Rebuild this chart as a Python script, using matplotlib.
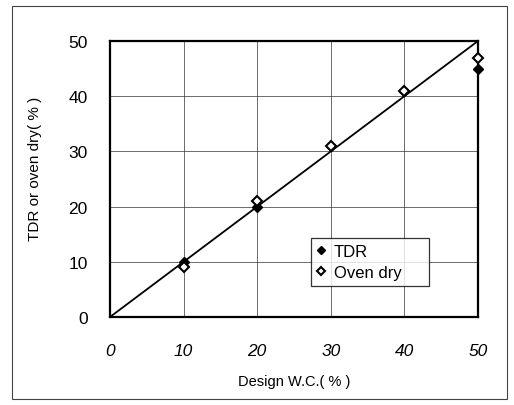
import matplotlib
matplotlib.use('agg')
import matplotlib.pyplot as plt
from matplotlib.patches import Rectangle

plt.rcParams['font.family'] = ['Liberation Sans', 'DejaVu Sans']

# data
design_wc = [10, 20, 30, 40, 50]
tdr = [10, 20, 31, 41, 45]
oven_dry = [9, 21, 31, 41, 47]
line_x = [0, 50]
line_y = [0, 50]
ticks = [0, 10, 20, 30, 40, 50]

fig = plt.figure(figsize=(5.14, 4.06), dpi=100)
ax = fig.add_axes([110/514, 1 - 318/406, 368/514, 276/406])

# outer frame round the whole figure
fig.patches.append(Rectangle((12/514, 1 - 400/406), 495/514, 393/406,
                             transform=fig.transFigure, fill=False,
                             edgecolor='#444444', linewidth=0.8))

ax.grid(True, color='#333333', linewidth=0.5)
ax.set_axisbelow(True)

ax.plot(line_x, line_y, color='black', linewidth=1.3, zorder=2)
ax.plot(design_wc, tdr, linestyle='none', marker='D', markersize=5,
        color='black', label='TDR', zorder=3, clip_on=False)
ax.plot(design_wc, oven_dry, linestyle='none', marker='D', markersize=5,
        markerfacecolor='white', markeredgecolor='black', markeredgewidth=1.5,
        label='Oven dry', zorder=4, clip_on=False)

ax.set_xlim(0, 50)
ax.set_ylim(0, 50)
ax.set_xticks(ticks)
ax.set_yticks(ticks)
ax.tick_params(axis='x', length=0, labelsize=12.5, pad=19)
ax.tick_params(axis='y', length=0, labelsize=12.5, pad=16)
for lab in ax.get_xticklabels():
    lab.set_fontstyle('italic')
for s in ax.spines.values():
    s.set_linewidth(1.6)

ax.set_xlabel('Design W.C.( % )', fontsize=10.5)
ax.set_ylabel('TDR or oven dry( % )', fontsize=11)
ax.xaxis.set_label_coords(0.5, -0.205)
ax.yaxis.set_label_coords(-0.185, 0.54)

leg = ax.legend(loc='lower left', bbox_to_anchor=(193/368, 23/276, 134/368, 60/276),
                mode='expand', fontsize=12, frameon=True, fancybox=False,
                edgecolor='black', handlelength=0.5, handletextpad=0.5,
                borderpad=0.35, labelspacing=0.35, markerscale=0.9)
leg.get_frame().set_linewidth(0.9)

plt.savefig('out.png', dpi=100)
plt.close()
